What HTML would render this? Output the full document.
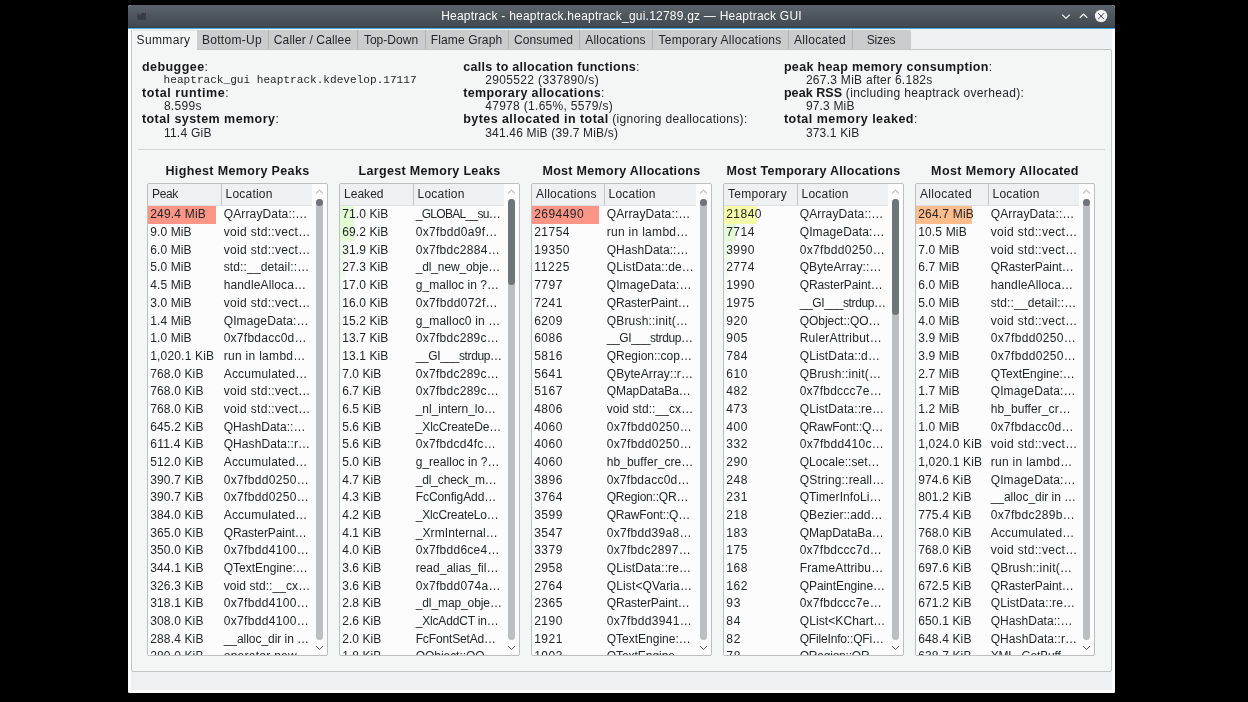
<!DOCTYPE html><html><head><meta charset='utf-8'><title>Heaptrack</title><style>
*{box-sizing:border-box;margin:0;padding:0}
html,body{width:1248px;height:702px;overflow:hidden;background:#000}
body{position:relative;font-family:"Liberation Sans",sans-serif;font-size:12.0px;color:#232629}
.a{position:absolute;white-space:pre}
#win{will-change:transform;position:absolute;left:128px;top:5px;width:987px;height:688px;background:#eff0f1;overflow:hidden;border-radius:3px 3px 2px 2px;box-shadow:inset 3px 0 0 #fcfcfc,inset -3px 0 0 #fcfcfc,inset 0 -3px 0 #fcfcfc}
#tb{position:absolute;left:0;top:0;width:987px;height:23px;background:linear-gradient(#5b646c,#4c545b 55%,#434a51 90%,#3a4046);}
#tbl{position:absolute;left:0;top:23px;width:987px;height:1px;background:#3daee9}
#ttl{position:absolute;left:0;top:4px;width:987px;text-align:center;color:#fcfcfc;font-size:12.0px;line-height:15px}
.tab{position:absolute;top:25px;height:19px;background:#cbcccd;border-left:1px solid #b2b3b4;text-align:center;line-height:20px;padding-right:2px;color:#232629}
.tab.last{border-top-right-radius:2px}
.tab.act{background:#f4f5f5;height:21px;border-left:1px solid #c3c4c5;border-top:1px solid #e4e5e6;line-height:18px;z-index:2}
#pink{position:absolute;left:3px;top:24px;width:981px;height:1px;background:#f6eeeb}
#panel{position:absolute;left:3px;top:44px;width:981px;height:623px;background:#f4f5f5;border:1px solid #c3c4c5;border-radius:2px}
.b{font-weight:bold;font-size:12.5px;color:#16191b}
.mono{font-family:"Liberation Mono",monospace;font-size:11.1px}
.sm{}
.sep{position:absolute;left:10px;top:150px;width:968px;height:1px;background:#d3d4d5}
.tt{position:absolute;font-weight:bold;font-size:12.5px;text-align:center;line-height:16px;color:#16191b}
.tv{position:absolute;background:#fcfcfc;border:1px solid #bcbebf;border-radius:2px;overflow:hidden}
.hd{position:absolute;left:0;top:0;height:22px;background:#eff0f1;border-bottom:1px solid #dedfe0}
.hdiv{position:absolute;top:0;width:1px;height:21px;background:#c5c6c7}
.row{position:absolute;left:0;height:17.68px;line-height:17.68px}
.bar{position:absolute;left:0;top:0;height:100%}
.c1,.c2{position:absolute;top:0.45px;white-space:pre}
.groove{position:absolute;width:7px;background:#bdbebf;border-radius:3.5px}
.thumb{position:absolute;width:7px;background:#6f7479;border-radius:3.5px}
</style></head><body>
<div id='win'>
<div id='tb'>
<svg style='position:absolute;left:9px;top:6px' width='10' height='10' viewBox='0 0 10 10'><path d='M0.4 1 V9.1 H9 V1 L7.5 2.4 L6 1.7 L4.6 2 L2.6 4.6 L1.5 2.4 Z' fill='#383e44'/></svg>
<div id='ttl'><span style='letter-spacing:0.220px'>Heaptrack - heaptrack.heaptrack_gui.12789.gz — Heaptrack GUI</span></div>
<svg style='position:absolute;left:930px;top:4px' width='57' height='14' viewBox='0 0 57 14'><path d='M4.2 9.6 L8 13.4 L11.8 9.6' transform='translate(0,-4)' fill='none' stroke='#eff0f1' stroke-width='1.3'/><path d='M21.8 12.8 L25.5 9.1 L29.2 12.8' transform='translate(0,-4)' fill='none' stroke='#eff0f1' stroke-width='1.3'/><circle cx='43.1' cy='11' r='6.2' transform='translate(0,-4)' fill='#eff0f1'/><path d='M40.1 4.1 L46.1 10.1 M46.1 4.1 L40.1 10.1' fill='none' stroke='#3b4045' stroke-width='0.95'/></svg>
</div><div id='tbl'></div><div id='pink'></div>
<div id='panel'>
<div class='a sm' style='left:9.90px;top:11px;line-height:13px'><span class='b'><span style='letter-spacing:0.458px'>debuggee</span></span>:</div>
<div class='a sm' style='left:31.60px;top:23px;line-height:13px'><span class='mono'>heaptrack_gui heaptrack.kdevelop.17117</span></div>
<div class='a sm' style='left:9.90px;top:37px;line-height:13px'><span class='b'><span style='letter-spacing:0.595px'>total runtime</span></span>:</div>
<div class='a sm' style='left:31.90px;top:50px;line-height:13px'><span style='letter-spacing:0.303px'>8.599s</span></div>
<div class='a sm' style='left:9.90px;top:63px;line-height:13px'><span class='b'><span style='letter-spacing:0.444px'>total system memory</span></span>:</div>
<div class='a sm' style='left:31.90px;top:77px;line-height:13px'><span style='letter-spacing:0.246px'>11.4 GiB</span></div>
<div class='a sm' style='left:331.20px;top:11px;line-height:13px'><span class='b'><span style='letter-spacing:0.286px'>calls to allocation functions</span></span>:</div>
<div class='a sm' style='left:353.20px;top:24px;line-height:13px'><span style='letter-spacing:0.356px'>2905522 (337890/s)</span></div>
<div class='a sm' style='left:331.20px;top:37px;line-height:13px'><span class='b'><span style='letter-spacing:0.379px'>temporary allocations</span></span>:</div>
<div class='a sm' style='left:353.20px;top:50px;line-height:13px'><span style='letter-spacing:0.305px'>47978 (1.65%, 5579/s)</span></div>
<div class='a sm' style='left:331.20px;top:63px;line-height:13px'><span class='b'><span style='letter-spacing:0.443px'>bytes allocated in total</span></span><span style='letter-spacing:0.316px'> (ignoring deallocations):</span></div>
<div class='a sm' style='left:353.20px;top:77px;line-height:13px'><span style='letter-spacing:0.186px'>341.46 MiB (39.7 MiB/s)</span></div>
<div class='a sm' style='left:651.90px;top:11px;line-height:13px'><span class='b'><span style='letter-spacing:0.344px'>peak heap memory consumption</span></span>:</div>
<div class='a sm' style='left:673.90px;top:24px;line-height:13px'><span style='letter-spacing:0.269px'>267.3 MiB after 6.182s</span></div>
<div class='a sm' style='left:651.90px;top:37px;line-height:13px'><span class='b'><span style='letter-spacing:0.078px'>peak RSS</span></span><span style='letter-spacing:0.330px'> (including heaptrack overhead):</span></div>
<div class='a sm' style='left:673.90px;top:50px;line-height:13px'><span style='letter-spacing:0.163px'>97.3 MiB</span></div>
<div class='a sm' style='left:651.90px;top:63px;line-height:13px'><span class='b'><span style='letter-spacing:0.483px'>total memory leaked</span></span>:</div>
<div class='a sm' style='left:673.90px;top:77px;line-height:13px'><span style='letter-spacing:0.152px'>373.1 KiB</span></div>
<div class='sep' style='left:6px;top:99px;width:967px'></div>
<div class='tt' style='left:-5px;top:113px;width:221px'><span style='letter-spacing:0.358px'>Highest Memory Peaks</span></div>
<div class='tv' style='left:15px;top:133px;width:181px;height:473px'>
<div class='hd' style='width:164px'>
<div class='hdiv' style='left:73px'></div>
<div class='c1' style='left:4px;top:0;line-height:21px'><span style='letter-spacing:-0.339px'>Peak</span></div>
<div class='c1' style='left:77.5px;top:0;line-height:21px'><span style='letter-spacing:0.221px'>Location</span></div>
</div>
<div class='row' style='top:22.00px;width:164px'>
<div class='bar' style='width:68.11px;background:rgb(253,150,134)'></div>
<div class='c1' style='left:2.2px'><span style='letter-spacing:0.191px'>249.4 MiB</span></div>
<div class='c2' style='left:75.7px'><span style='letter-spacing:0.137px'>QArrayData::…</span></div>
</div>
<div class='row' style='top:39.68px;width:164px'>
<div class='bar' style='width:2.46px;background:rgb(246,252,245)'></div>
<div class='c1' style='left:2.2px'><span style='letter-spacing:0.125px'>9.0 MiB</span></div>
<div class='c2' style='left:75.7px'><span style='letter-spacing:0.326px'>void std::vect…</span></div>
</div>
<div class='row' style='top:57.36px;width:164px'>
<div class='bar' style='width:1.64px;background:rgb(247,252,247)'></div>
<div class='c1' style='left:2.2px'><span style='letter-spacing:0.125px'>6.0 MiB</span></div>
<div class='c2' style='left:75.7px'><span style='letter-spacing:0.326px'>void std::vect…</span></div>
</div>
<div class='row' style='top:75.04px;width:164px'>
<div class='bar' style='width:1.37px;background:rgb(248,252,248)'></div>
<div class='c1' style='left:2.2px'><span style='letter-spacing:0.125px'>5.0 MiB</span></div>
<div class='c2' style='left:75.7px'><span style='letter-spacing:0.141px'>std::__detail::…</span></div>
</div>
<div class='row' style='top:92.72px;width:164px'>
<div class='bar' style='width:1.23px;background:rgb(248,252,248)'></div>
<div class='c1' style='left:2.2px'><span style='letter-spacing:0.125px'>4.5 MiB</span></div>
<div class='c2' style='left:75.7px'><span style='letter-spacing:0.135px'>handleAlloca…</span></div>
</div>
<div class='row' style='top:110.40px;width:164px'>
<div class='bar' style='width:0.82px;background:rgb(250,252,250)'></div>
<div class='c1' style='left:2.2px'><span style='letter-spacing:0.125px'>3.0 MiB</span></div>
<div class='c2' style='left:75.7px'><span style='letter-spacing:0.326px'>void std::vect…</span></div>
</div>
<div class='row' style='top:128.08px;width:164px'>
<div class='c1' style='left:2.2px'><span style='letter-spacing:0.125px'>1.4 MiB</span></div>
<div class='c2' style='left:75.7px'><span style='letter-spacing:0.129px'>QImageData:…</span></div>
</div>
<div class='row' style='top:145.76px;width:164px'>
<div class='c1' style='left:2.2px'><span style='letter-spacing:0.125px'>1.0 MiB</span></div>
<div class='c2' style='left:75.7px'><span style='letter-spacing:0.256px'>0x7fbdacc0d…</span></div>
</div>
<div class='row' style='top:163.44px;width:164px'>
<div class='c1' style='left:2.2px'><span style='letter-spacing:0.180px'>1,020.1 KiB</span></div>
<div class='c2' style='left:75.7px'><span style='letter-spacing:0.301px'>run in lambd…</span></div>
</div>
<div class='row' style='top:181.12px;width:164px'>
<div class='c1' style='left:2.2px'><span style='letter-spacing:0.152px'>768.0 KiB</span></div>
<div class='c2' style='left:75.7px'><span style='letter-spacing:0.207px'>Accumulated…</span></div>
</div>
<div class='row' style='top:198.80px;width:164px'>
<div class='c1' style='left:2.2px'><span style='letter-spacing:0.152px'>768.0 KiB</span></div>
<div class='c2' style='left:75.7px'><span style='letter-spacing:0.326px'>void std::vect…</span></div>
</div>
<div class='row' style='top:216.48px;width:164px'>
<div class='c1' style='left:2.2px'><span style='letter-spacing:0.152px'>768.0 KiB</span></div>
<div class='c2' style='left:75.7px'><span style='letter-spacing:0.326px'>void std::vect…</span></div>
</div>
<div class='row' style='top:234.16px;width:164px'>
<div class='c1' style='left:2.2px'><span style='letter-spacing:0.152px'>645.2 KiB</span></div>
<div class='c2' style='left:75.7px'><span style='letter-spacing:0.034px'>QHashData::…</span></div>
</div>
<div class='row' style='top:251.84px;width:164px'>
<div class='c1' style='left:2.2px'><span style='letter-spacing:0.264px'>611.4 KiB</span></div>
<div class='c2' style='left:75.7px'><span style='letter-spacing:0.079px'>QHashData::r…</span></div>
</div>
<div class='row' style='top:269.52px;width:164px'>
<div class='c1' style='left:2.2px'><span style='letter-spacing:0.152px'>512.0 KiB</span></div>
<div class='c2' style='left:75.7px'><span style='letter-spacing:0.207px'>Accumulated…</span></div>
</div>
<div class='row' style='top:287.20px;width:164px'>
<div class='c1' style='left:2.2px'><span style='letter-spacing:0.152px'>390.7 KiB</span></div>
<div class='c2' style='left:75.7px'><span style='letter-spacing:0.331px'>0x7fbdd0250…</span></div>
</div>
<div class='row' style='top:304.88px;width:164px'>
<div class='c1' style='left:2.2px'><span style='letter-spacing:0.152px'>390.7 KiB</span></div>
<div class='c2' style='left:75.7px'><span style='letter-spacing:0.331px'>0x7fbdd0250…</span></div>
</div>
<div class='row' style='top:322.56px;width:164px'>
<div class='c1' style='left:2.2px'><span style='letter-spacing:0.152px'>384.0 KiB</span></div>
<div class='c2' style='left:75.7px'><span style='letter-spacing:0.207px'>Accumulated…</span></div>
</div>
<div class='row' style='top:340.24px;width:164px'>
<div class='c1' style='left:2.2px'><span style='letter-spacing:0.152px'>365.0 KiB</span></div>
<div class='c2' style='left:75.7px'><span style='letter-spacing:-0.081px'>QRasterPaint…</span></div>
</div>
<div class='row' style='top:357.92px;width:164px'>
<div class='c1' style='left:2.2px'><span style='letter-spacing:0.152px'>350.0 KiB</span></div>
<div class='c2' style='left:75.7px'><span style='letter-spacing:0.331px'>0x7fbdd4100…</span></div>
</div>
<div class='row' style='top:375.60px;width:164px'>
<div class='c1' style='left:2.2px'><span style='letter-spacing:0.152px'>344.1 KiB</span></div>
<div class='c2' style='left:75.7px'>QTextEngine:…</div>
</div>
<div class='row' style='top:393.28px;width:164px'>
<div class='c1' style='left:2.2px'><span style='letter-spacing:0.152px'>326.3 KiB</span></div>
<div class='c2' style='left:75.7px'><span style='letter-spacing:0.081px'>void std::__cx…</span></div>
</div>
<div class='row' style='top:410.96px;width:164px'>
<div class='c1' style='left:2.2px'><span style='letter-spacing:0.152px'>318.1 KiB</span></div>
<div class='c2' style='left:75.7px'><span style='letter-spacing:0.331px'>0x7fbdd4100…</span></div>
</div>
<div class='row' style='top:428.64px;width:164px'>
<div class='c1' style='left:2.2px'><span style='letter-spacing:0.152px'>308.0 KiB</span></div>
<div class='c2' style='left:75.7px'><span style='letter-spacing:0.331px'>0x7fbdd4100…</span></div>
</div>
<div class='row' style='top:446.32px;width:164px'>
<div class='c1' style='left:2.2px'><span style='letter-spacing:0.152px'>288.4 KiB</span></div>
<div class='c2' style='left:75.7px'><span style='letter-spacing:-0.041px'>__alloc_dir in …</span></div>
</div>
<div class='row' style='top:464.00px;width:164px'>
<div class='c1' style='left:2.2px'><span style='letter-spacing:0.152px'>280.0 KiB</span></div>
<div class='c2' style='left:75.7px'><span style='letter-spacing:0.268px'>operator new…</span></div>
</div>
<svg style='position:absolute;left:164px;top:0' width='15' height='471' viewBox='0 0 15 471'><path d='M4 9.5 L7.5 6 L11 9.5' fill='none' stroke='#c4c5c6' stroke-width='1.1'/><path d='M4 462 L7.5 465.5 L11 462' fill='none' stroke='#5f6368' stroke-width='1'/></svg>
<div class='groove' style='left:168px;top:14.5px;height:441.5px'></div>
<div class='thumb' style='left:168px;top:14.5px;height:7.5px'></div>
</div>
<div class='tt' style='left:187px;top:113px;width:221px'><span style='letter-spacing:0.324px'>Largest Memory Leaks</span></div>
<div class='tv' style='left:207px;top:133px;width:181px;height:473px'>
<div class='hd' style='width:164px'>
<div class='hdiv' style='left:73px'></div>
<div class='c1' style='left:4px;top:0;line-height:21px'><span style='letter-spacing:0.028px'>Leaked</span></div>
<div class='c1' style='left:77.5px;top:0;line-height:21px'><span style='letter-spacing:0.221px'>Location</span></div>
</div>
<div class='row' style='top:22.00px;width:164px'>
<div class='bar' style='width:13.89px;background:rgb(227,252,211)'></div>
<div class='c1' style='left:2.2px'><span style='letter-spacing:0.118px'>71.0 KiB</span></div>
<div class='c2' style='left:75.7px'><span style='letter-spacing:-0.697px'>_GLOBAL__su…</span></div>
</div>
<div class='row' style='top:39.68px;width:164px'>
<div class='bar' style='width:13.54px;background:rgb(228,252,212)'></div>
<div class='c1' style='left:2.2px'><span style='letter-spacing:0.118px'>69.2 KiB</span></div>
<div class='c2' style='left:75.7px'><span style='letter-spacing:0.325px'>0x7fbdd0a9f…</span></div>
</div>
<div class='row' style='top:57.36px;width:164px'>
<div class='bar' style='width:6.24px;background:rgb(237,252,233)'></div>
<div class='c1' style='left:2.2px'><span style='letter-spacing:0.118px'>31.9 KiB</span></div>
<div class='c2' style='left:75.7px'><span style='letter-spacing:0.307px'>0x7fbdc2884…</span></div>
</div>
<div class='row' style='top:75.04px;width:164px'>
<div class='bar' style='width:5.34px;background:rgb(239,252,236)'></div>
<div class='c1' style='left:2.2px'><span style='letter-spacing:0.118px'>27.3 KiB</span></div>
<div class='c2' style='left:75.7px'><span style='letter-spacing:-0.128px'>_dl_new_obje…</span></div>
</div>
<div class='row' style='top:92.72px;width:164px'>
<div class='bar' style='width:3.33px;background:rgb(243,252,242)'></div>
<div class='c1' style='left:2.2px'><span style='letter-spacing:0.118px'>17.0 KiB</span></div>
<div class='c2' style='left:75.7px'><span style='letter-spacing:0.053px'>g_malloc in ?…</span></div>
</div>
<div class='row' style='top:110.40px;width:164px'>
<div class='bar' style='width:3.13px;background:rgb(243,252,242)'></div>
<div class='c1' style='left:2.2px'><span style='letter-spacing:0.118px'>16.0 KiB</span></div>
<div class='c2' style='left:75.7px'><span style='letter-spacing:0.348px'>0x7fbdd072f…</span></div>
</div>
<div class='row' style='top:128.08px;width:164px'>
<div class='bar' style='width:2.97px;background:rgb(244,252,243)'></div>
<div class='c1' style='left:2.2px'><span style='letter-spacing:0.118px'>15.2 KiB</span></div>
<div class='c2' style='left:75.7px'><span style='letter-spacing:0.143px'>g_malloc0 in …</span></div>
</div>
<div class='row' style='top:145.76px;width:164px'>
<div class='bar' style='width:2.68px;background:rgb(245,252,244)'></div>
<div class='c1' style='left:2.2px'><span style='letter-spacing:0.118px'>13.7 KiB</span></div>
<div class='c2' style='left:75.7px'><span style='letter-spacing:0.280px'>0x7fbdc289c…</span></div>
</div>
<div class='row' style='top:163.44px;width:164px'>
<div class='bar' style='width:2.56px;background:rgb(245,252,244)'></div>
<div class='c1' style='left:2.2px'><span style='letter-spacing:0.118px'>13.1 KiB</span></div>
<div class='c2' style='left:75.7px'><span style='letter-spacing:-0.391px'>__GI___strdup…</span></div>
</div>
<div class='row' style='top:181.12px;width:164px'>
<div class='bar' style='width:1.37px;background:rgb(248,252,248)'></div>
<div class='c1' style='left:2.2px'><span style='letter-spacing:0.073px'>7.0 KiB</span></div>
<div class='c2' style='left:75.7px'><span style='letter-spacing:0.280px'>0x7fbdc289c…</span></div>
</div>
<div class='row' style='top:198.80px;width:164px'>
<div class='bar' style='width:1.31px;background:rgb(248,252,248)'></div>
<div class='c1' style='left:2.2px'><span style='letter-spacing:0.073px'>6.7 KiB</span></div>
<div class='c2' style='left:75.7px'><span style='letter-spacing:0.280px'>0x7fbdc289c…</span></div>
</div>
<div class='row' style='top:216.48px;width:164px'>
<div class='bar' style='width:1.27px;background:rgb(248,252,248)'></div>
<div class='c1' style='left:2.2px'><span style='letter-spacing:0.073px'>6.5 KiB</span></div>
<div class='c2' style='left:75.7px'><span style='letter-spacing:-0.024px'>_nl_intern_lo…</span></div>
</div>
<div class='row' style='top:234.16px;width:164px'>
<div class='bar' style='width:1.10px;background:rgb(249,252,249)'></div>
<div class='c1' style='left:2.2px'><span style='letter-spacing:0.073px'>5.6 KiB</span></div>
<div class='c2' style='left:75.7px'><span style='letter-spacing:-0.087px'>_XlcCreateDe…</span></div>
</div>
<div class='row' style='top:251.84px;width:164px'>
<div class='bar' style='width:1.10px;background:rgb(249,252,249)'></div>
<div class='c1' style='left:2.2px'><span style='letter-spacing:0.073px'>5.6 KiB</span></div>
<div class='c2' style='left:75.7px'><span style='letter-spacing:0.297px'>0x7fbdcd4fc…</span></div>
</div>
<div class='row' style='top:269.52px;width:164px'>
<div class='bar' style='width:0.98px;background:rgb(249,252,249)'></div>
<div class='c1' style='left:2.2px'><span style='letter-spacing:0.073px'>5.0 KiB</span></div>
<div class='c2' style='left:75.7px'><span style='letter-spacing:0.025px'>g_realloc in ?…</span></div>
</div>
<div class='row' style='top:287.20px;width:164px'>
<div class='bar' style='width:0.92px;background:rgb(249,252,249)'></div>
<div class='c1' style='left:2.2px'><span style='letter-spacing:0.073px'>4.7 KiB</span></div>
<div class='c2' style='left:75.7px'><span style='letter-spacing:-0.142px'>_dl_check_m…</span></div>
</div>
<div class='row' style='top:304.88px;width:164px'>
<div class='bar' style='width:0.84px;background:rgb(250,252,250)'></div>
<div class='c1' style='left:2.2px'><span style='letter-spacing:0.073px'>4.3 KiB</span></div>
<div class='c2' style='left:75.7px'><span style='letter-spacing:-0.065px'>FcConfigAdd…</span></div>
</div>
<div class='row' style='top:322.56px;width:164px'>
<div class='bar' style='width:0.82px;background:rgb(250,252,250)'></div>
<div class='c1' style='left:2.2px'><span style='letter-spacing:0.073px'>4.2 KiB</span></div>
<div class='c2' style='left:75.7px'><span style='letter-spacing:-0.138px'>_XlcCreateLo…</span></div>
</div>
<div class='row' style='top:340.24px;width:164px'>
<div class='bar' style='width:0.80px;background:rgb(250,252,250)'></div>
<div class='c1' style='left:2.2px'><span style='letter-spacing:0.073px'>4.1 KiB</span></div>
<div class='c2' style='left:75.7px'><span style='letter-spacing:0.122px'>_XrmInternal…</span></div>
</div>
<div class='row' style='top:357.92px;width:164px'>
<div class='bar' style='width:0.78px;background:rgb(250,252,250)'></div>
<div class='c1' style='left:2.2px'><span style='letter-spacing:0.073px'>4.0 KiB</span></div>
<div class='c2' style='left:75.7px'><span style='letter-spacing:0.284px'>0x7fbdd6ce4…</span></div>
</div>
<div class='row' style='top:375.60px;width:164px'>
<div class='bar' style='width:0.70px;background:rgb(250,252,250)'></div>
<div class='c1' style='left:2.2px'><span style='letter-spacing:0.073px'>3.6 KiB</span></div>
<div class='c2' style='left:75.7px'>read_alias_fil…</div>
</div>
<div class='row' style='top:393.28px;width:164px'>
<div class='bar' style='width:0.70px;background:rgb(250,252,250)'></div>
<div class='c1' style='left:2.2px'><span style='letter-spacing:0.073px'>3.6 KiB</span></div>
<div class='c2' style='left:75.7px'><span style='letter-spacing:0.307px'>0x7fbdd074a…</span></div>
</div>
<div class='row' style='top:410.96px;width:164px'>
<div class='bar' style='width:0.55px;background:rgb(251,252,251)'></div>
<div class='c1' style='left:2.2px'><span style='letter-spacing:0.073px'>2.8 KiB</span></div>
<div class='c2' style='left:75.7px'><span style='letter-spacing:-0.096px'>_dl_map_obje…</span></div>
</div>
<div class='row' style='top:428.64px;width:164px'>
<div class='bar' style='width:0.51px;background:rgb(251,252,251)'></div>
<div class='c1' style='left:2.2px'><span style='letter-spacing:0.073px'>2.6 KiB</span></div>
<div class='c2' style='left:75.7px'><span style='letter-spacing:-0.174px'>_XlcAddCT in…</span></div>
</div>
<div class='row' style='top:446.32px;width:164px'>
<div class='c1' style='left:2.2px'><span style='letter-spacing:0.073px'>2.0 KiB</span></div>
<div class='c2' style='left:75.7px'><span style='letter-spacing:-0.149px'>FcFontSetAd…</span></div>
</div>
<div class='row' style='top:464.00px;width:164px'>
<div class='c1' style='left:2.2px'><span style='letter-spacing:0.073px'>1.8 KiB</span></div>
<div class='c2' style='left:75.7px'><span style='letter-spacing:-0.041px'>QObject::QO…</span></div>
</div>
<svg style='position:absolute;left:164px;top:0' width='15' height='471' viewBox='0 0 15 471'><path d='M4 9.5 L7.5 6 L11 9.5' fill='none' stroke='#c4c5c6' stroke-width='1.1'/><path d='M4 462 L7.5 465.5 L11 462' fill='none' stroke='#5f6368' stroke-width='1'/></svg>
<div class='groove' style='left:168px;top:14.5px;height:441.5px'></div>
<div class='thumb' style='left:168px;top:14.5px;height:86.5px'></div>
</div>
<div class='tt' style='left:379px;top:113px;width:221px'><span style='letter-spacing:0.313px'>Most Memory Allocations</span></div>
<div class='tv' style='left:399px;top:133px;width:181px;height:473px'>
<div class='hd' style='width:164px'>
<div class='hdiv' style='left:72px'></div>
<div class='c1' style='left:4px;top:0;line-height:21px'><span style='letter-spacing:0.244px'>Allocations</span></div>
<div class='c1' style='left:76.5px;top:0;line-height:21px'><span style='letter-spacing:0.221px'>Location</span></div>
</div>
<div class='row' style='top:22.00px;width:164px'>
<div class='bar' style='width:66.77px;background:rgb(253,150,134)'></div>
<div class='c1' style='left:2.2px'><span style='letter-spacing:0.451px'>2694490</span></div>
<div class='c2' style='left:74.7px'><span style='letter-spacing:0.137px'>QArrayData::…</span></div>
</div>
<div class='row' style='top:39.68px;width:164px'>
<div class='bar' style='width:0.54px;background:rgb(251,252,251)'></div>
<div class='c1' style='left:2.2px'><span style='letter-spacing:0.480px'>21754</span></div>
<div class='c2' style='left:74.7px'><span style='letter-spacing:0.301px'>run in lambd…</span></div>
</div>
<div class='row' style='top:57.36px;width:164px'>
<div class='c1' style='left:2.2px'><span style='letter-spacing:0.480px'>19350</span></div>
<div class='c2' style='left:74.7px'><span style='letter-spacing:0.034px'>QHashData::…</span></div>
</div>
<div class='row' style='top:75.04px;width:164px'>
<div class='c1' style='left:2.2px'><span style='letter-spacing:0.703px'>11225</span></div>
<div class='c2' style='left:74.7px'><span style='letter-spacing:0.130px'>QListData::de…</span></div>
</div>
<div class='row' style='top:92.72px;width:164px'>
<div class='c1' style='left:2.2px'><span style='letter-spacing:0.510px'>7797</span></div>
<div class='c2' style='left:74.7px'><span style='letter-spacing:0.129px'>QImageData:…</span></div>
</div>
<div class='row' style='top:110.40px;width:164px'>
<div class='c1' style='left:2.2px'><span style='letter-spacing:0.510px'>7241</span></div>
<div class='c2' style='left:74.7px'><span style='letter-spacing:-0.081px'>QRasterPaint…</span></div>
</div>
<div class='row' style='top:128.08px;width:164px'>
<div class='c1' style='left:2.2px'><span style='letter-spacing:0.510px'>6209</span></div>
<div class='c2' style='left:74.7px'><span style='letter-spacing:0.194px'>QBrush::init(…</span></div>
</div>
<div class='row' style='top:145.76px;width:164px'>
<div class='c1' style='left:2.2px'><span style='letter-spacing:0.510px'>6086</span></div>
<div class='c2' style='left:74.7px'><span style='letter-spacing:-0.391px'>__GI___strdup…</span></div>
</div>
<div class='row' style='top:163.44px;width:164px'>
<div class='c1' style='left:2.2px'><span style='letter-spacing:0.510px'>5816</span></div>
<div class='c2' style='left:74.7px'><span style='letter-spacing:-0.014px'>QRegion::cop…</span></div>
</div>
<div class='row' style='top:181.12px;width:164px'>
<div class='c1' style='left:2.2px'><span style='letter-spacing:0.510px'>5641</span></div>
<div class='c2' style='left:74.7px'><span style='letter-spacing:0.124px'>QByteArray::r…</span></div>
</div>
<div class='row' style='top:198.80px;width:164px'>
<div class='c1' style='left:2.2px'><span style='letter-spacing:0.510px'>5167</span></div>
<div class='c2' style='left:74.7px'><span style='letter-spacing:-0.056px'>QMapDataBa…</span></div>
</div>
<div class='row' style='top:216.48px;width:164px'>
<div class='c1' style='left:2.2px'><span style='letter-spacing:0.510px'>4806</span></div>
<div class='c2' style='left:74.7px'><span style='letter-spacing:0.081px'>void std::__cx…</span></div>
</div>
<div class='row' style='top:234.16px;width:164px'>
<div class='c1' style='left:2.2px'><span style='letter-spacing:0.510px'>4060</span></div>
<div class='c2' style='left:74.7px'><span style='letter-spacing:0.331px'>0x7fbdd0250…</span></div>
</div>
<div class='row' style='top:251.84px;width:164px'>
<div class='c1' style='left:2.2px'><span style='letter-spacing:0.510px'>4060</span></div>
<div class='c2' style='left:74.7px'><span style='letter-spacing:0.331px'>0x7fbdd0250…</span></div>
</div>
<div class='row' style='top:269.52px;width:164px'>
<div class='c1' style='left:2.2px'><span style='letter-spacing:0.510px'>4060</span></div>
<div class='c2' style='left:74.7px'><span style='letter-spacing:0.059px'>hb_buffer_cre…</span></div>
</div>
<div class='row' style='top:287.20px;width:164px'>
<div class='c1' style='left:2.2px'><span style='letter-spacing:0.510px'>3896</span></div>
<div class='c2' style='left:74.7px'><span style='letter-spacing:0.256px'>0x7fbdacc0d…</span></div>
</div>
<div class='row' style='top:304.88px;width:164px'>
<div class='c1' style='left:2.2px'><span style='letter-spacing:0.510px'>3764</span></div>
<div class='c2' style='left:74.7px'><span style='letter-spacing:-0.210px'>QRegion::QR…</span></div>
</div>
<div class='row' style='top:322.56px;width:164px'>
<div class='c1' style='left:2.2px'><span style='letter-spacing:0.510px'>3599</span></div>
<div class='c2' style='left:74.7px'><span style='letter-spacing:-0.166px'>QRawFont::Q…</span></div>
</div>
<div class='row' style='top:340.24px;width:164px'>
<div class='c1' style='left:2.2px'><span style='letter-spacing:0.510px'>3547</span></div>
<div class='c2' style='left:74.7px'><span style='letter-spacing:0.307px'>0x7fbdd39a8…</span></div>
</div>
<div class='row' style='top:357.92px;width:164px'>
<div class='c1' style='left:2.2px'><span style='letter-spacing:0.510px'>3379</span></div>
<div class='c2' style='left:74.7px'><span style='letter-spacing:0.307px'>0x7fbdc2897…</span></div>
</div>
<div class='row' style='top:375.60px;width:164px'>
<div class='c1' style='left:2.2px'><span style='letter-spacing:0.510px'>2958</span></div>
<div class='c2' style='left:74.7px'><span style='letter-spacing:0.125px'>QListData::re…</span></div>
</div>
<div class='row' style='top:393.28px;width:164px'>
<div class='c1' style='left:2.2px'><span style='letter-spacing:0.510px'>2764</span></div>
<div class='c2' style='left:74.7px'><span style='letter-spacing:0.145px'>QList&lt;QVaria…</span></div>
</div>
<div class='row' style='top:410.96px;width:164px'>
<div class='c1' style='left:2.2px'><span style='letter-spacing:0.510px'>2365</span></div>
<div class='c2' style='left:74.7px'><span style='letter-spacing:-0.081px'>QRasterPaint…</span></div>
</div>
<div class='row' style='top:428.64px;width:164px'>
<div class='c1' style='left:2.2px'><span style='letter-spacing:0.510px'>2190</span></div>
<div class='c2' style='left:74.7px'><span style='letter-spacing:0.331px'>0x7fbdd3941…</span></div>
</div>
<div class='row' style='top:446.32px;width:164px'>
<div class='c1' style='left:2.2px'><span style='letter-spacing:0.510px'>1921</span></div>
<div class='c2' style='left:74.7px'>QTextEngine:…</div>
</div>
<div class='row' style='top:464.00px;width:164px'>
<div class='c1' style='left:2.2px'><span style='letter-spacing:0.510px'>1903</span></div>
<div class='c2' style='left:74.7px'><span style='letter-spacing:-0.038px'>QTextEngine…</span></div>
</div>
<svg style='position:absolute;left:164px;top:0' width='15' height='471' viewBox='0 0 15 471'><path d='M4 9.5 L7.5 6 L11 9.5' fill='none' stroke='#c4c5c6' stroke-width='1.1'/><path d='M4 462 L7.5 465.5 L11 462' fill='none' stroke='#5f6368' stroke-width='1'/></svg>
<div class='groove' style='left:168px;top:14.5px;height:441.5px'></div>
<div class='thumb' style='left:168px;top:14.5px;height:7.5px'></div>
</div>
<div class='tt' style='left:571px;top:113px;width:221px'><span style='letter-spacing:0.284px'>Most Temporary Allocations</span></div>
<div class='tv' style='left:591px;top:133px;width:181px;height:473px'>
<div class='hd' style='width:164px'>
<div class='hdiv' style='left:73px'></div>
<div class='c1' style='left:4px;top:0;line-height:21px'><span style='letter-spacing:0.270px'>Temporary</span></div>
<div class='c1' style='left:77.5px;top:0;line-height:21px'><span style='letter-spacing:0.221px'>Location</span></div>
</div>
<div class='row' style='top:22.00px;width:164px'>
<div class='bar' style='width:33.23px;background:rgb(246,253,169)'></div>
<div class='c1' style='left:2.2px'><span style='letter-spacing:0.480px'>21840</span></div>
<div class='c2' style='left:75.7px'><span style='letter-spacing:0.137px'>QArrayData::…</span></div>
</div>
<div class='row' style='top:39.68px;width:164px'>
<div class='bar' style='width:11.74px;background:rgb(229,252,217)'></div>
<div class='c1' style='left:2.2px'><span style='letter-spacing:0.510px'>7714</span></div>
<div class='c2' style='left:75.7px'><span style='letter-spacing:0.129px'>QImageData:…</span></div>
</div>
<div class='row' style='top:57.36px;width:164px'>
<div class='bar' style='width:6.07px;background:rgb(236,252,233)'></div>
<div class='c1' style='left:2.2px'><span style='letter-spacing:0.510px'>3990</span></div>
<div class='c2' style='left:75.7px'><span style='letter-spacing:0.331px'>0x7fbdd0250…</span></div>
</div>
<div class='row' style='top:75.04px;width:164px'>
<div class='bar' style='width:4.22px;background:rgb(241,252,239)'></div>
<div class='c1' style='left:2.2px'><span style='letter-spacing:0.510px'>2774</span></div>
<div class='c2' style='left:75.7px'><span style='letter-spacing:0.087px'>QByteArray::…</span></div>
</div>
<div class='row' style='top:92.72px;width:164px'>
<div class='bar' style='width:3.03px;background:rgb(244,252,243)'></div>
<div class='c1' style='left:2.2px'><span style='letter-spacing:0.510px'>1990</span></div>
<div class='c2' style='left:75.7px'><span style='letter-spacing:-0.081px'>QRasterPaint…</span></div>
</div>
<div class='row' style='top:110.40px;width:164px'>
<div class='bar' style='width:3.01px;background:rgb(244,252,243)'></div>
<div class='c1' style='left:2.2px'><span style='letter-spacing:0.510px'>1975</span></div>
<div class='c2' style='left:75.7px'><span style='letter-spacing:-0.391px'>__GI___strdup…</span></div>
</div>
<div class='row' style='top:128.08px;width:164px'>
<div class='bar' style='width:1.40px;background:rgb(248,252,248)'></div>
<div class='c1' style='left:2.2px'><span style='letter-spacing:0.578px'>920</span></div>
<div class='c2' style='left:75.7px'><span style='letter-spacing:-0.041px'>QObject::QO…</span></div>
</div>
<div class='row' style='top:145.76px;width:164px'>
<div class='bar' style='width:1.38px;background:rgb(248,252,248)'></div>
<div class='c1' style='left:2.2px'><span style='letter-spacing:0.578px'>905</span></div>
<div class='c2' style='left:75.7px'><span style='letter-spacing:0.251px'>RulerAttribut…</span></div>
</div>
<div class='row' style='top:163.44px;width:164px'>
<div class='bar' style='width:1.19px;background:rgb(249,252,249)'></div>
<div class='c1' style='left:2.2px'><span style='letter-spacing:0.578px'>784</span></div>
<div class='c2' style='left:75.7px'><span style='letter-spacing:0.128px'>QListData::d…</span></div>
</div>
<div class='row' style='top:181.12px;width:164px'>
<div class='bar' style='width:0.93px;background:rgb(249,252,249)'></div>
<div class='c1' style='left:2.2px'><span style='letter-spacing:0.578px'>610</span></div>
<div class='c2' style='left:75.7px'><span style='letter-spacing:0.194px'>QBrush::init(…</span></div>
</div>
<div class='row' style='top:198.80px;width:164px'>
<div class='bar' style='width:0.73px;background:rgb(250,252,250)'></div>
<div class='c1' style='left:2.2px'><span style='letter-spacing:0.578px'>482</span></div>
<div class='c2' style='left:75.7px'><span style='letter-spacing:0.233px'>0x7fbdccc7e…</span></div>
</div>
<div class='row' style='top:216.48px;width:164px'>
<div class='bar' style='width:0.72px;background:rgb(250,252,250)'></div>
<div class='c1' style='left:2.2px'><span style='letter-spacing:0.578px'>473</span></div>
<div class='c2' style='left:75.7px'><span style='letter-spacing:0.125px'>QListData::re…</span></div>
</div>
<div class='row' style='top:234.16px;width:164px'>
<div class='bar' style='width:0.61px;background:rgb(251,252,251)'></div>
<div class='c1' style='left:2.2px'><span style='letter-spacing:0.578px'>400</span></div>
<div class='c2' style='left:75.7px'><span style='letter-spacing:-0.166px'>QRawFont::Q…</span></div>
</div>
<div class='row' style='top:251.84px;width:164px'>
<div class='bar' style='width:0.51px;background:rgb(251,252,251)'></div>
<div class='c1' style='left:2.2px'><span style='letter-spacing:0.578px'>332</span></div>
<div class='c2' style='left:75.7px'><span style='letter-spacing:0.305px'>0x7fbdd410c…</span></div>
</div>
<div class='row' style='top:269.52px;width:164px'>
<div class='c1' style='left:2.2px'><span style='letter-spacing:0.578px'>290</span></div>
<div class='c2' style='left:75.7px'><span style='letter-spacing:0.039px'>QLocale::set…</span></div>
</div>
<div class='row' style='top:287.20px;width:164px'>
<div class='c1' style='left:2.2px'><span style='letter-spacing:0.578px'>248</span></div>
<div class='c2' style='left:75.7px'><span style='letter-spacing:0.177px'>QString::reall…</span></div>
</div>
<div class='row' style='top:304.88px;width:164px'>
<div class='c1' style='left:2.2px'><span style='letter-spacing:0.578px'>231</span></div>
<div class='c2' style='left:75.7px'><span style='letter-spacing:0.074px'>QTimerInfoLi…</span></div>
</div>
<div class='row' style='top:322.56px;width:164px'>
<div class='c1' style='left:2.2px'><span style='letter-spacing:0.578px'>218</span></div>
<div class='c2' style='left:75.7px'><span style='letter-spacing:0.056px'>QBezier::add…</span></div>
</div>
<div class='row' style='top:340.24px;width:164px'>
<div class='c1' style='left:2.2px'><span style='letter-spacing:0.578px'>183</span></div>
<div class='c2' style='left:75.7px'><span style='letter-spacing:-0.056px'>QMapDataBa…</span></div>
</div>
<div class='row' style='top:357.92px;width:164px'>
<div class='c1' style='left:2.2px'><span style='letter-spacing:0.578px'>175</span></div>
<div class='c2' style='left:75.7px'><span style='letter-spacing:0.253px'>0x7fbdccc7d…</span></div>
</div>
<div class='row' style='top:375.60px;width:164px'>
<div class='c1' style='left:2.2px'><span style='letter-spacing:0.578px'>168</span></div>
<div class='c2' style='left:75.7px'><span style='letter-spacing:0.176px'>FrameAttribu…</span></div>
</div>
<div class='row' style='top:393.28px;width:164px'>
<div class='c1' style='left:2.2px'><span style='letter-spacing:0.578px'>162</span></div>
<div class='c2' style='left:75.7px'><span style='letter-spacing:-0.062px'>QPaintEngine…</span></div>
</div>
<div class='row' style='top:410.96px;width:164px'>
<div class='c1' style='left:2.2px'><span style='letter-spacing:0.766px'>93</span></div>
<div class='c2' style='left:75.7px'><span style='letter-spacing:0.233px'>0x7fbdccc7e…</span></div>
</div>
<div class='row' style='top:428.64px;width:164px'>
<div class='c1' style='left:2.2px'><span style='letter-spacing:0.766px'>84</span></div>
<div class='c2' style='left:75.7px'><span style='letter-spacing:0.108px'>QList&lt;KChart…</span></div>
</div>
<div class='row' style='top:446.32px;width:164px'>
<div class='c1' style='left:2.2px'><span style='letter-spacing:0.766px'>82</span></div>
<div class='c2' style='left:75.7px'><span style='letter-spacing:-0.174px'>QFileInfo::QFi…</span></div>
</div>
<div class='row' style='top:464.00px;width:164px'>
<div class='c1' style='left:2.2px'><span style='letter-spacing:0.766px'>78</span></div>
<div class='c2' style='left:75.7px'><span style='letter-spacing:-0.210px'>QRegion::QR…</span></div>
</div>
<svg style='position:absolute;left:164px;top:0' width='15' height='471' viewBox='0 0 15 471'><path d='M4 9.5 L7.5 6 L11 9.5' fill='none' stroke='#c4c5c6' stroke-width='1.1'/><path d='M4 462 L7.5 465.5 L11 462' fill='none' stroke='#5f6368' stroke-width='1'/></svg>
<div class='groove' style='left:168px;top:14.5px;height:441.5px'></div>
<div class='thumb' style='left:168px;top:14.5px;height:116.5px'></div>
</div>
<div class='tt' style='left:763px;top:113px;width:220px'><span style='letter-spacing:0.377px'>Most Memory Allocated</span></div>
<div class='tv' style='left:783px;top:133px;width:180px;height:473px'>
<div class='hd' style='width:163px'>
<div class='hdiv' style='left:72px'></div>
<div class='c1' style='left:4px;top:0;line-height:21px'><span style='letter-spacing:0.285px'>Allocated</span></div>
<div class='c1' style='left:76.5px;top:0;line-height:21px'><span style='letter-spacing:0.221px'>Location</span></div>
</div>
<div class='row' style='top:22.00px;width:163px'>
<div class='bar' style='width:55.81px;background:rgb(253,189,140)'></div>
<div class='c1' style='left:2.2px'><span style='letter-spacing:0.191px'>264.7 MiB</span></div>
<div class='c2' style='left:74.7px'><span style='letter-spacing:0.137px'>QArrayData::…</span></div>
</div>
<div class='row' style='top:39.68px;width:163px'>
<div class='bar' style='width:2.21px;background:rgb(246,252,245)'></div>
<div class='c1' style='left:2.2px'><span style='letter-spacing:0.163px'>10.5 MiB</span></div>
<div class='c2' style='left:74.7px'><span style='letter-spacing:0.326px'>void std::vect…</span></div>
</div>
<div class='row' style='top:57.36px;width:163px'>
<div class='bar' style='width:1.48px;background:rgb(248,252,248)'></div>
<div class='c1' style='left:2.2px'><span style='letter-spacing:0.125px'>7.0 MiB</span></div>
<div class='c2' style='left:74.7px'><span style='letter-spacing:0.326px'>void std::vect…</span></div>
</div>
<div class='row' style='top:75.04px;width:163px'>
<div class='bar' style='width:1.41px;background:rgb(248,252,248)'></div>
<div class='c1' style='left:2.2px'><span style='letter-spacing:0.125px'>6.7 MiB</span></div>
<div class='c2' style='left:74.7px'><span style='letter-spacing:-0.081px'>QRasterPaint…</span></div>
</div>
<div class='row' style='top:92.72px;width:163px'>
<div class='bar' style='width:1.27px;background:rgb(248,252,248)'></div>
<div class='c1' style='left:2.2px'><span style='letter-spacing:0.125px'>6.0 MiB</span></div>
<div class='c2' style='left:74.7px'><span style='letter-spacing:0.135px'>handleAlloca…</span></div>
</div>
<div class='row' style='top:110.40px;width:163px'>
<div class='bar' style='width:1.05px;background:rgb(249,252,249)'></div>
<div class='c1' style='left:2.2px'><span style='letter-spacing:0.125px'>5.0 MiB</span></div>
<div class='c2' style='left:74.7px'><span style='letter-spacing:0.141px'>std::__detail::…</span></div>
</div>
<div class='row' style='top:128.08px;width:163px'>
<div class='bar' style='width:0.84px;background:rgb(250,252,250)'></div>
<div class='c1' style='left:2.2px'><span style='letter-spacing:0.125px'>4.0 MiB</span></div>
<div class='c2' style='left:74.7px'><span style='letter-spacing:0.326px'>void std::vect…</span></div>
</div>
<div class='row' style='top:145.76px;width:163px'>
<div class='bar' style='width:0.82px;background:rgb(250,252,250)'></div>
<div class='c1' style='left:2.2px'><span style='letter-spacing:0.125px'>3.9 MiB</span></div>
<div class='c2' style='left:74.7px'><span style='letter-spacing:0.331px'>0x7fbdd0250…</span></div>
</div>
<div class='row' style='top:163.44px;width:163px'>
<div class='bar' style='width:0.82px;background:rgb(250,252,250)'></div>
<div class='c1' style='left:2.2px'><span style='letter-spacing:0.125px'>3.9 MiB</span></div>
<div class='c2' style='left:74.7px'><span style='letter-spacing:0.331px'>0x7fbdd0250…</span></div>
</div>
<div class='row' style='top:181.12px;width:163px'>
<div class='bar' style='width:0.57px;background:rgb(251,252,251)'></div>
<div class='c1' style='left:2.2px'><span style='letter-spacing:0.125px'>2.7 MiB</span></div>
<div class='c2' style='left:74.7px'>QTextEngine:…</div>
</div>
<div class='row' style='top:198.80px;width:163px'>
<div class='c1' style='left:2.2px'><span style='letter-spacing:0.125px'>1.7 MiB</span></div>
<div class='c2' style='left:74.7px'><span style='letter-spacing:0.129px'>QImageData:…</span></div>
</div>
<div class='row' style='top:216.48px;width:163px'>
<div class='c1' style='left:2.2px'><span style='letter-spacing:0.125px'>1.2 MiB</span></div>
<div class='c2' style='left:74.7px'><span style='letter-spacing:0.072px'>hb_buffer_cr…</span></div>
</div>
<div class='row' style='top:234.16px;width:163px'>
<div class='c1' style='left:2.2px'><span style='letter-spacing:0.125px'>1.0 MiB</span></div>
<div class='c2' style='left:74.7px'><span style='letter-spacing:0.256px'>0x7fbdacc0d…</span></div>
</div>
<div class='row' style='top:251.84px;width:163px'>
<div class='c1' style='left:2.2px'><span style='letter-spacing:0.180px'>1,024.0 KiB</span></div>
<div class='c2' style='left:74.7px'><span style='letter-spacing:0.326px'>void std::vect…</span></div>
</div>
<div class='row' style='top:269.52px;width:163px'>
<div class='c1' style='left:2.2px'><span style='letter-spacing:0.180px'>1,020.1 KiB</span></div>
<div class='c2' style='left:74.7px'><span style='letter-spacing:0.301px'>run in lambd…</span></div>
</div>
<div class='row' style='top:287.20px;width:163px'>
<div class='c1' style='left:2.2px'><span style='letter-spacing:0.152px'>974.6 KiB</span></div>
<div class='c2' style='left:74.7px'><span style='letter-spacing:0.129px'>QImageData:…</span></div>
</div>
<div class='row' style='top:304.88px;width:163px'>
<div class='c1' style='left:2.2px'><span style='letter-spacing:0.152px'>801.2 KiB</span></div>
<div class='c2' style='left:74.7px'><span style='letter-spacing:-0.041px'>__alloc_dir in …</span></div>
</div>
<div class='row' style='top:322.56px;width:163px'>
<div class='c1' style='left:2.2px'><span style='letter-spacing:0.152px'>775.4 KiB</span></div>
<div class='c2' style='left:74.7px'><span style='letter-spacing:0.305px'>0x7fbdc289b…</span></div>
</div>
<div class='row' style='top:340.24px;width:163px'>
<div class='c1' style='left:2.2px'><span style='letter-spacing:0.152px'>768.0 KiB</span></div>
<div class='c2' style='left:74.7px'><span style='letter-spacing:0.207px'>Accumulated…</span></div>
</div>
<div class='row' style='top:357.92px;width:163px'>
<div class='c1' style='left:2.2px'><span style='letter-spacing:0.152px'>768.0 KiB</span></div>
<div class='c2' style='left:74.7px'><span style='letter-spacing:0.326px'>void std::vect…</span></div>
</div>
<div class='row' style='top:375.60px;width:163px'>
<div class='c1' style='left:2.2px'><span style='letter-spacing:0.152px'>697.6 KiB</span></div>
<div class='c2' style='left:74.7px'><span style='letter-spacing:0.194px'>QBrush::init(…</span></div>
</div>
<div class='row' style='top:393.28px;width:163px'>
<div class='c1' style='left:2.2px'><span style='letter-spacing:0.152px'>672.5 KiB</span></div>
<div class='c2' style='left:74.7px'><span style='letter-spacing:-0.081px'>QRasterPaint…</span></div>
</div>
<div class='row' style='top:410.96px;width:163px'>
<div class='c1' style='left:2.2px'><span style='letter-spacing:0.152px'>671.2 KiB</span></div>
<div class='c2' style='left:74.7px'><span style='letter-spacing:0.125px'>QListData::re…</span></div>
</div>
<div class='row' style='top:428.64px;width:163px'>
<div class='c1' style='left:2.2px'><span style='letter-spacing:0.152px'>650.1 KiB</span></div>
<div class='c2' style='left:74.7px'><span style='letter-spacing:0.034px'>QHashData::…</span></div>
</div>
<div class='row' style='top:446.32px;width:163px'>
<div class='c1' style='left:2.2px'><span style='letter-spacing:0.152px'>648.4 KiB</span></div>
<div class='c2' style='left:74.7px'><span style='letter-spacing:0.079px'>QHashData::r…</span></div>
</div>
<div class='row' style='top:464.00px;width:163px'>
<div class='c1' style='left:2.2px'><span style='letter-spacing:0.152px'>638.7 KiB</span></div>
<div class='c2' style='left:74.7px'><span style='letter-spacing:-0.161px'>XML_GetBuff…</span></div>
</div>
<svg style='position:absolute;left:163px;top:0' width='15' height='471' viewBox='0 0 15 471'><path d='M4 9.5 L7.5 6 L11 9.5' fill='none' stroke='#c4c5c6' stroke-width='1.1'/><path d='M4 462 L7.5 465.5 L11 462' fill='none' stroke='#5f6368' stroke-width='1'/></svg>
<div class='groove' style='left:167px;top:14.5px;height:441.5px'></div>
<div class='thumb' style='left:167px;top:14.5px;height:7.5px'></div>
</div>
</div>
<div class='tab act' style='left:3px;width:66px'><span style='letter-spacing:0.380px'>Summary</span></div>
<div class='tab' style='left:68px;width:73px'><span style='letter-spacing:0.312px'>Bottom-Up</span></div>
<div class='tab' style='left:140px;width:90px'><span style='letter-spacing:0.134px'>Caller / Callee</span></div>
<div class='tab' style='left:229px;width:69px'><span style='letter-spacing:0.020px'>Top-Down</span></div>
<div class='tab' style='left:297px;width:84px'><span style='letter-spacing:0.142px'>Flame Graph</span></div>
<div class='tab' style='left:380px;width:72px'><span style='letter-spacing:0.147px'>Consumed</span></div>
<div class='tab' style='left:451px;width:74px'><span style='letter-spacing:0.244px'>Allocations</span></div>
<div class='tab' style='left:524px;width:137px'><span style='letter-spacing:0.273px'>Temporary Allocations</span></div>
<div class='tab' style='left:660px;width:65px'><span style='letter-spacing:0.285px'>Allocated</span></div>
<div class='tab last' style='left:724px;width:59px'><span style='letter-spacing:-0.195px'>Sizes</span></div>
</div></body></html>
